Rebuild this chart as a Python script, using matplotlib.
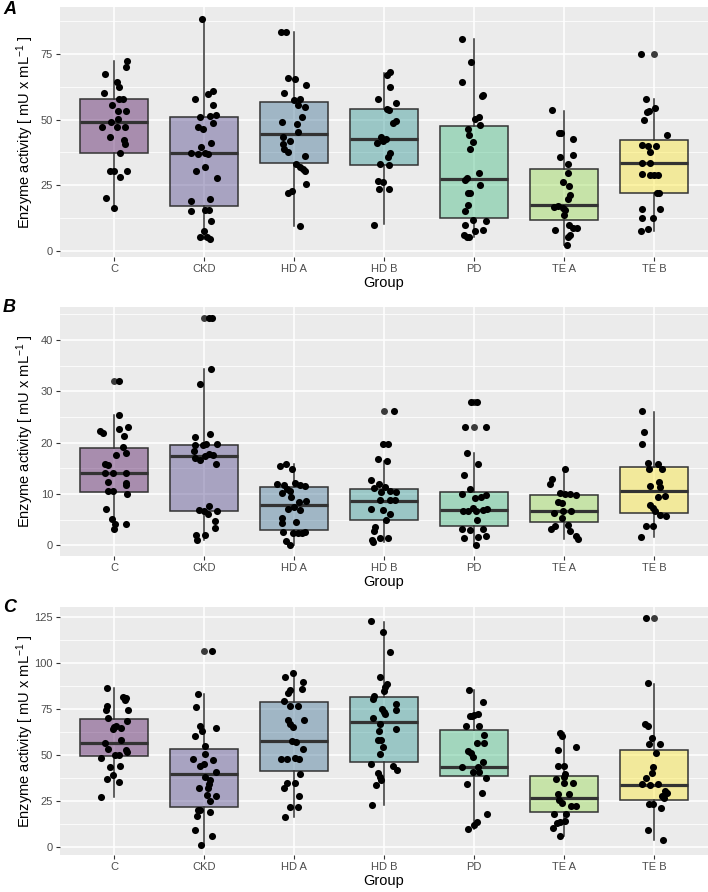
import matplotlib
matplotlib.use('Agg')
import matplotlib.pyplot as plt
from matplotlib.colors import to_rgba

plt.rcParams['font.family'] = ['Liberation Sans', 'DejaVu Sans']
plt.rcParams['mathtext.fontset'] = 'custom'
plt.rcParams['mathtext.rm'] = 'Liberation Sans'
plt.rcParams['mathtext.it'] = 'Liberation Sans:italic'

groups = ['C', 'CKD', 'HD A', 'HD B', 'PD', 'TE A', 'TE B']
fill_colors = ['#440154', '#443983', '#31688E', '#21908C', '#35B779', '#8FD744', '#FDE725']

# --- Panel A ---
a_values = {
    'C': [72.5, 70.2, 67.4, 64.5, 62.3, 60.3, 58.0, 57.8, 55.5, 53.4, 53.2, 50.4, 49.2, 47.3, 47.3, 47.3,
          43.5, 42.2, 40.7, 37.2, 30.4, 30.5, 30.5, 28.2, 20.2, 16.2],
    'CKD': [88.4, 61.1, 59.7, 58.0, 55.5, 51.1, 51.4, 51.7, 47.3, 46.3, 48.6, 39.4, 41.0, 37.2, 36.9, 37.2,
            36.9, 30.5, 31.8, 27.7, 19.1, 19.8, 15.0, 15.4, 15.4, 11.2, 7.4, 5.1, 5.1, 4.6],
    'HD A': [83.5, 83.3, 65.8, 65.5, 63.2, 60.1, 57.5, 58.0, 55.5, 54.7, 51.1, 49.1, 48.3, 45.3, 43.5, 41.7,
             40.7, 38.9, 37.7, 36.1, 33.1, 32.1, 31.0, 30.5, 25.4, 22.1, 22.6, 9.4],
    'HD B': [68.3, 67.0, 62.3, 58.0, 56.5, 54.2, 53.7, 49.6, 48.9, 43.3, 42.7, 41.2, 41.7, 37.4, 35.6, 33.1,
             32.8, 26.6, 26.2, 23.4, 23.7, 9.8],
    'PD': [80.9, 72.1, 64.4, 59.2, 59.5, 50.4, 51.1, 47.8, 46.3, 44.0, 41.5, 38.9, 29.8, 27.7, 25.2, 27.0,
           22.1, 21.9, 17.6, 15.3, 11.7, 11.5, 9.9, 7.6, 7.9, 6.1, 5.3, 5.1],
    'TE A': [53.7, 45.0, 45.0, 42.5, 35.9, 36.4, 33.1, 29.5, 26.2, 24.7, 21.1, 19.8, 16.8, 17.0, 16.3, 15.5,
             13.7, 7.9, 9.7, 8.7, 8.7, 5.9, 5.1, 2.0],
    'TE B': [75.1, 58.0, 54.3, 52.9, 53.3, 49.9, 44.3, 40.2, 39.9, 39.9, 37.7, 33.6, 33.3, 29.3, 29.0, 28.8,
             28.8, 22.1, 22.1, 15.8, 15.8, 12.3, 12.3, 7.4, 8.4],
}
a_jitter = {
    'C': [0.14, 0.13, -0.10, 0.03, 0.06, -0.11, 0.06, 0.10, -0.02, 0.13, 0.04, 0.04, -0.03, -0.13, 0.03, 0.12,
          -0.05, 0.11, 0.12, 0.07, -0.04, 0.0, 0.14, 0.07, -0.09, 0.0],
    'CKD': [-0.02, 0.10, 0.04, -0.10, 0.10, -0.04, 0.07, 0.13, -0.07, -0.01, 0.10, -0.03, 0.08, -0.14, -0.07, 0.01,
            0.04, -0.09, 0.01, 0.14, -0.15, 0.07, -0.14, 0.01, 0.05, 0.08, 0.0, -0.05, 0.03, 0.07],
    'HD A': [-0.14, -0.09, -0.07, 0.01, 0.13, -0.11, 0.0, 0.07, 0.04, 0.12, 0.09, -0.13, 0.03, 0.04, -0.12, -0.04,
             -0.12, -0.11, -0.07, 0.12, 0.02, 0.07, 0.10, 0.12, 0.13, -0.07, -0.02, 0.07],
    'HD B': [0.07, 0.03, 0.07, -0.07, 0.13, 0.03, 0.05, 0.13, 0.10, -0.03, 0.02, -0.08, -0.01, 0.07, 0.04, -0.04,
             0.05, -0.07, -0.01, -0.06, 0.05, -0.11],
    'PD': [-0.13, -0.03, -0.13, 0.09, 0.10, 0.01, 0.06, 0.07, -0.07, -0.06, -0.01, -0.04, 0.05, -0.08, 0.07, -0.10,
           -0.07, -0.05, -0.07, -0.10, -0.01, 0.13, -0.10, 0.01, 0.10, -0.11, -0.08, -0.06],
    'TE A': [-0.13, -0.06, -0.03, 0.10, -0.04, 0.10, 0.04, 0.04, -0.01, 0.05, 0.07, 0.04, -0.11, -0.07, -0.01, 0.01,
             0.0, -0.10, 0.05, 0.14, 0.10, 0.07, 0.04, 0.03],
    'TE B': [-0.15, -0.09, 0.01, -0.08, -0.06, -0.11, 0.14, -0.13, -0.07, 0.02, -0.04, -0.13, -0.05, -0.13, -0.04, 0.0,
             0.04, 0.03, 0.05, -0.13, 0.07, -0.13, -0.01, -0.15, -0.07],
}
# box stats: whisker low, q1, median, q3, whisker high
a_box = {
    'C': [16.2, 37.2, 49.1, 57.8, 72.4], 'CKD': [4.6, 17.2, 37.3, 51.0, 88.4],
    'HD A': [9.4, 33.6, 44.5, 56.7, 83.3], 'HD B': [10.2, 32.8, 42.7, 53.9, 67.7],
    'PD': [5.1, 12.5, 27.5, 47.6, 80.7], 'TE A': [2.0, 11.7, 17.4, 31.3, 53.3],
    'TE B': [7.4, 22.1, 33.3, 42.2, 57.8],
}
a_outliers = {'TE B': [75.1]}

# --- Panel B ---
b_values = {
    'C': [32.0, 25.3, 22.2, 21.9, 23.0, 22.6, 21.3, 19.2, 18.0, 17.5, 15.8, 15.7, 14.1, 14.1, 14.1, 12.3,
          12.2, 11.8, 10.6, 10.5, 10.0, 7.1, 5.1, 4.2, 4.1, 3.1],
    'CKD': [44.3, 44.3, 34.3, 31.4, 21.1, 21.7, 19.6, 19.6, 19.7, 19.7, 18.3, 17.8, 17.6, 17.0, 16.6, 17.4,
            15.9, 7.6, 6.8, 6.6, 6.6, 6.0, 4.7, 3.4, 1.9, 1.9, 1.0],
    'HD A': [15.4, 15.9, 14.9, 11.9, 11.8, 12.2, 11.8, 11.5, 11.0, 10.2, 10.5, 9.4, 8.7, 8.4, 7.5, 7.1,
             6.8, 5.3, 4.6, 4.4, 2.5, 2.3, 2.3, 2.4, 2.5, 0.8, 0.1],
    'HD B': [26.2, 19.7, 19.7, 16.8, 16.5, 12.8, 12.0, 11.1, 11.4, 10.3, 10.5, 10.3, 8.8, 8.9, 8.8, 7.1,
             6.8, 6.0, 4.9, 3.6, 2.8, 1.1, 0.6, 1.4, 1.5],
    'PD': [27.8, 27.8, 23.0, 23.1, 18.0, 15.9, 13.6, 10.9, 10.0, 9.2, 9.4, 9.7, 7.3, 6.6, 6.6, 6.6,
           6.8, 7.0, 4.9, 3.1, 2.9, 3.1, 1.5, 1.6, 1.8, 0.1],
    'TE A': [14.8, 12.9, 11.9, 10.1, 10.0, 10.0, 9.7, 8.5, 8.3, 6.3, 6.6, 6.7, 5.3, 3.8, 3.1, 4.0,
             2.8, 1.8, 1.2],
    'TE B': [26.1, 22.0, 19.7, 16.1, 15.9, 14.8, 14.9, 11.5, 12.3, 11.4, 9.6, 9.3, 7.9, 7.3, 6.6, 5.8,
             5.7, 3.8, 3.7, 1.6],
}
b_jitter = {
    'C': [0.05, 0.05, -0.16, -0.12, 0.15, 0.06, 0.11, 0.10, 0.13, 0.02, -0.10, -0.07, -0.10, -0.01, 0.13, -0.07,
          0.13, 0.13, -0.07, -0.01, 0.14, -0.09, -0.02, 0.01, 0.13, 0.0],
    'CKD': [0.05, 0.09, 0.08, -0.05, -0.10, 0.07, -0.10, -0.01, 0.02, 0.14, -0.11, 0.06, 0.10, -0.10, -0.05, 0.01,
            0.13, 0.06, -0.06, 0.0, 0.14, 0.04, 0.12, 0.12, -0.09, 0.01, -0.08],
    'HD A': [-0.16, -0.09, -0.02, -0.19, -0.11, 0.01, 0.07, 0.12, -0.08, -0.13, -0.04, -0.03, 0.13, 0.06, 0.0, -0.07,
             0.07, -0.13, 0.02, -0.13, -0.12, -0.01, 0.04, 0.09, 0.12, -0.09, -0.05],
    'HD B': [0.11, -0.01, 0.04, -0.07, 0.03, -0.14, -0.06, -0.11, 0.01, -0.03, 0.07, 0.13, -0.05, 0.07, 0.12, -0.15,
             -0.01, 0.07, 0.02, -0.10, -0.11, -0.13, -0.12, -0.04, 0.04],
    'PD': [-0.03, 0.03, -0.10, 0.13, -0.08, 0.04, -0.11, -0.04, -0.13, 0.01, 0.08, 0.13, -0.01, -0.12, -0.07, 0.02,
           0.10, 0.14, 0.03, -0.13, -0.04, 0.10, -0.11, 0.04, 0.13, 0.02],
    'TE A': [0.01, -0.13, -0.16, -0.04, 0.01, 0.07, 0.13, -0.07, -0.02, -0.11, -0.01, 0.08, -0.02, -0.10, -0.15, 0.04,
             0.07, 0.13, 0.15],
    'TE B': [-0.13, -0.11, -0.13, -0.07, 0.04, 0.09, -0.06, -0.04, 0.05, 0.07, 0.12, 0.04, -0.04, -0.01, 0.01, 0.07,
             0.13, -0.09, -0.01, -0.14],
}
b_box = {
    'C': [3.1, 10.3, 14.1, 18.9, 25.3], 'CKD': [1.0, 6.6, 17.4, 19.6, 34.3],
    'HD A': [0.1, 2.9, 7.75, 11.4, 15.9], 'HD B': [0.6, 5.0, 8.6, 10.9, 16.5],
    'PD': [0.1, 3.8, 6.8, 10.3, 17.9], 'TE A': [1.2, 4.6, 6.7, 9.7, 14.8],
    'TE B': [1.6, 6.3, 10.6, 15.2, 26.0],
}
b_outliers = {'C': [32.0], 'CKD': [44.3], 'HD B': [26.2], 'PD': [27.8, 23.1]}

# --- Panel C ---
c_values = {
    'C': [86.6, 81.5, 80.8, 79.7, 74.6, 76.4, 74.3, 69.9, 68.5, 65.2, 65.9, 64.1, 64.5, 58.3, 56.5, 53.3,
          52.9, 51.8, 50.0, 50.0, 48.6, 43.5, 44.2, 39.1, 37.0, 35.5, 27.2],
    'CKD': [106.3, 83.3, 76.1, 65.6, 64.9, 63.0, 60.1, 54.7, 50.7, 47.8, 47.5, 44.9, 43.8, 40.6, 38.0, 36.2,
            34.4, 31.9, 32.2, 28.3, 27.9, 25.0, 20.3, 20.3, 18.8, 17.0, 9.4, 6.2, 1.4],
    'HD A': [94.7, 92.4, 89.5, 85.9, 85.1, 83.7, 79.3, 76.8, 76.8, 69.2, 69.2, 66.7, 65.2, 57.6, 57.2, 53.3,
             47.8, 47.8, 48.6, 47.8, 39.9, 34.8, 34.8, 32.2, 27.5, 21.7, 21.7, 16.3],
    'HD B': [122.8, 116.8, 106.0, 92.4, 88.4, 87.0, 84.8, 82.2, 80.4, 75.0, 73.2, 72.5, 77.5, 74.3, 69.9, 67.0,
             64.1, 63.0, 58.0, 58.0, 54.3, 50.4, 44.9, 44.2, 41.7, 40.2, 38.0, 36.6, 33.7, 22.8],
    'PD': [85.1, 78.6, 72.5, 71.7, 71.4, 71.0, 65.9, 65.9, 60.9, 56.5, 56.5, 52.2, 51.1, 48.9, 46.0, 43.5,
           43.5, 40.6, 41.0, 37.3, 34.1, 29.3, 18.1, 13.4, 12.0, 9.8],
    'TE A': [62.0, 60.1, 54.3, 52.5, 43.8, 43.8, 39.5, 38.0, 37.0, 34.8, 34.8, 29.0, 29.0, 25.7, 23.9, 22.5,
             22.5, 17.8, 17.8, 13.4, 13.0, 14.1, 10.1, 5.8],
    'TE B': [124.6, 89.1, 67.0, 65.9, 59.4, 55.8, 55.8, 51.1, 43.5, 40.2, 37.7, 34.4, 33.7, 34.4, 30.4, 29.3,
             27.5, 26.8, 23.2, 23.6, 21.4, 9.4, 4.0],
}
c_jitter = {
    'C': [-0.08, 0.10, 0.13, 0.12, 0.15, -0.08, -0.09, -0.07, 0.14, 0.0, 0.02, -0.01, 0.08, 0.08, -0.10, -0.07,
          0.13, 0.14, 0.01, 0.05, -0.15, -0.04, 0.07, -0.01, -0.08, 0.05, -0.14],
    'CKD': [0.09, -0.07, -0.09, -0.04, 0.13, -0.02, -0.10, 0.01, 0.01, -0.12, 0.10, 0.0, -0.04, 0.13, 0.01, 0.07,
            0.05, -0.06, 0.04, 0.03, 0.13, 0.07, -0.07, -0.04, 0.07, -0.08, -0.10, 0.09, -0.03],
    'HD A': [-0.01, -0.10, 0.10, 0.09, -0.05, -0.07, -0.11, -0.04, 0.04, 0.11, -0.07, -0.04, -0.01, -0.02, 0.02, 0.10,
             -0.15, -0.08, 0.01, 0.06, 0.07, -0.08, 0.01, -0.11, 0.06, -0.05, 0.04, -0.10],
    'HD B': [-0.14, -0.01, 0.07, -0.04, 0.03, 0.01, 0.0, -0.11, -0.12, -0.02, 0.0, 0.01, 0.13, 0.13, -0.12, -0.04,
             0.13, -0.06, -0.03, -0.07, -0.01, -0.04, -0.15, 0.10, 0.14, -0.07, -0.04, -0.03, -0.09, -0.13],
    'PD': [-0.06, 0.10, 0.04, 0.0, -0.05, -0.02, -0.09, 0.05, 0.11, 0.03, 0.11, -0.07, -0.03, -0.01, 0.10, -0.13,
           0.04, -0.01, 0.06, 0.13, -0.08, 0.09, 0.14, 0.03, 0.0, -0.07],
    'TE A': [-0.04, -0.02, 0.13, -0.07, -0.07, 0.0, 0.01, 0.0, -0.09, 0.10, 0.0, -0.07, 0.06, -0.06, -0.02, 0.08,
             0.13, -0.11, 0.02, -0.04, -0.08, 0.01, -0.12, -0.05],
    'TE B': [-0.09, -0.07, -0.10, -0.07, -0.02, -0.06, 0.07, 0.02, -0.01, -0.02, -0.09, -0.13, -0.05, 0.04, 0.12, 0.14,
             0.09, 0.11, -0.06, -0.01, 0.08, -0.07, 0.10],
}
c_box = {
    'C': [27.2, 49.6, 56.5, 69.6, 86.4], 'CKD': [1.4, 21.7, 39.9, 53.3, 83.3],
    'HD A': [16.3, 41.3, 57.6, 78.6, 94.7], 'HD B': [22.8, 46.0, 68.1, 81.5, 122.5],
    'PD': [9.8, 38.8, 43.5, 63.4, 85.1], 'TE A': [5.8, 18.8, 26.8, 38.8, 62.0],
    'TE B': [4.0, 25.4, 33.7, 52.9, 88.8],
}
c_outliers = {'CKD': [106.3], 'TE B': [124.6]}

a_ticks = [0, 25, 50, 75]
b_ticks = [0, 10, 20, 30, 40]
c_ticks = [0, 25, 50, 75, 100, 125]

panel_bg = '#EBEBEB'
ylabel = 'Enzyme activity [ mU x mL$^{-1}$ ]'


def draw_panel(ax, values, jitter, box, outliers, ticks, ylim):
    ax.set_facecolor(panel_bg)
    for s in ax.spines.values():
        s.set_visible(False)
    stats = []
    for g in groups:
        lo, q1, med, q3, hi = box[g]
        stats.append({'whislo': lo, 'q1': q1, 'med': med, 'q3': q3, 'whishi': hi,
                      'fliers': outliers.get(g, [])})
    pos = list(range(len(groups)))
    bp = ax.bxp(stats, positions=pos, widths=0.75, patch_artist=True, showcaps=False,
                boxprops=dict(edgecolor='#333333', linewidth=1.1),
                whiskerprops=dict(color='#333333', linewidth=1.1),
                medianprops=dict(color='#333333', linewidth=2.3),
                flierprops=dict(marker='o', markerfacecolor='#3a3a3a', markeredgecolor='#3a3a3a',
                                markersize=5.0, markeredgewidth=0))
    for patch, col in zip(bp['boxes'], fill_colors):
        patch.set_facecolor(to_rgba(col, 0.4))
    for i, g in enumerate(groups):
        xs = [i + j for j in jitter[g]]
        ax.scatter(xs, values[g], s=26, color='black', zorder=5, linewidths=0)

    ax.set_xlim(-0.6, len(groups) - 0.4)
    ax.set_ylim(*ylim)
    ax.set_xticks(pos)
    ax.set_xticklabels(groups)
    ax.set_yticks(ticks)
    minor = [t + (ticks[1] - ticks[0]) / 2 for t in ticks if t + (ticks[1] - ticks[0]) / 2 < ylim[1]]
    ax.set_yticks(minor, minor=True)
    ax.grid(True, which='major', color='white', linewidth=1.1)
    ax.grid(True, which='minor', axis='y', color='white', linewidth=0.55)
    ax.set_axisbelow(True)
    ax.tick_params(axis='both', which='major', length=3, width=0.8, color='#333333',
                   labelcolor='#4D4D4D', labelsize=8, pad=2)
    ax.tick_params(axis='y', which='minor', length=0)
    ax.set_xlabel('Group', fontsize=10.5, labelpad=1.5)
    ax.set_ylabel(ylabel, fontsize=10.5, va='center')
    ax.yaxis.set_label_coords(-0.054, 0.5)


fig = plt.figure(figsize=(7.08, 8.92), dpi=100)
W, H = 708, 892
left, width = 60 / W, 648 / W
ax_a = fig.add_axes([left, 1 - 257 / H, width, 250 / H])
ax_b = fig.add_axes([left, 1 - 556 / H, width, 249 / H])
ax_c = fig.add_axes([left, 1 - 855 / H, width, 248 / H])

draw_panel(ax_a, a_values, a_jitter, a_box, a_outliers, a_ticks, (-2.4, 93))
draw_panel(ax_b, b_values, b_jitter, b_box, b_outliers, b_ticks, (-2.1, 46.4))
draw_panel(ax_c, c_values, c_jitter, c_box, c_outliers, c_ticks, (-4.3, 130.4))

for label, ypx in [('A', 9), ('B', 308), ('C', 608)]:
    fig.text(3 / W, 1 - ypx / H, label, fontsize=13, fontweight='bold', fontstyle='italic',
             va='center', ha='left')

fig.savefig('out.png', dpi=100)
